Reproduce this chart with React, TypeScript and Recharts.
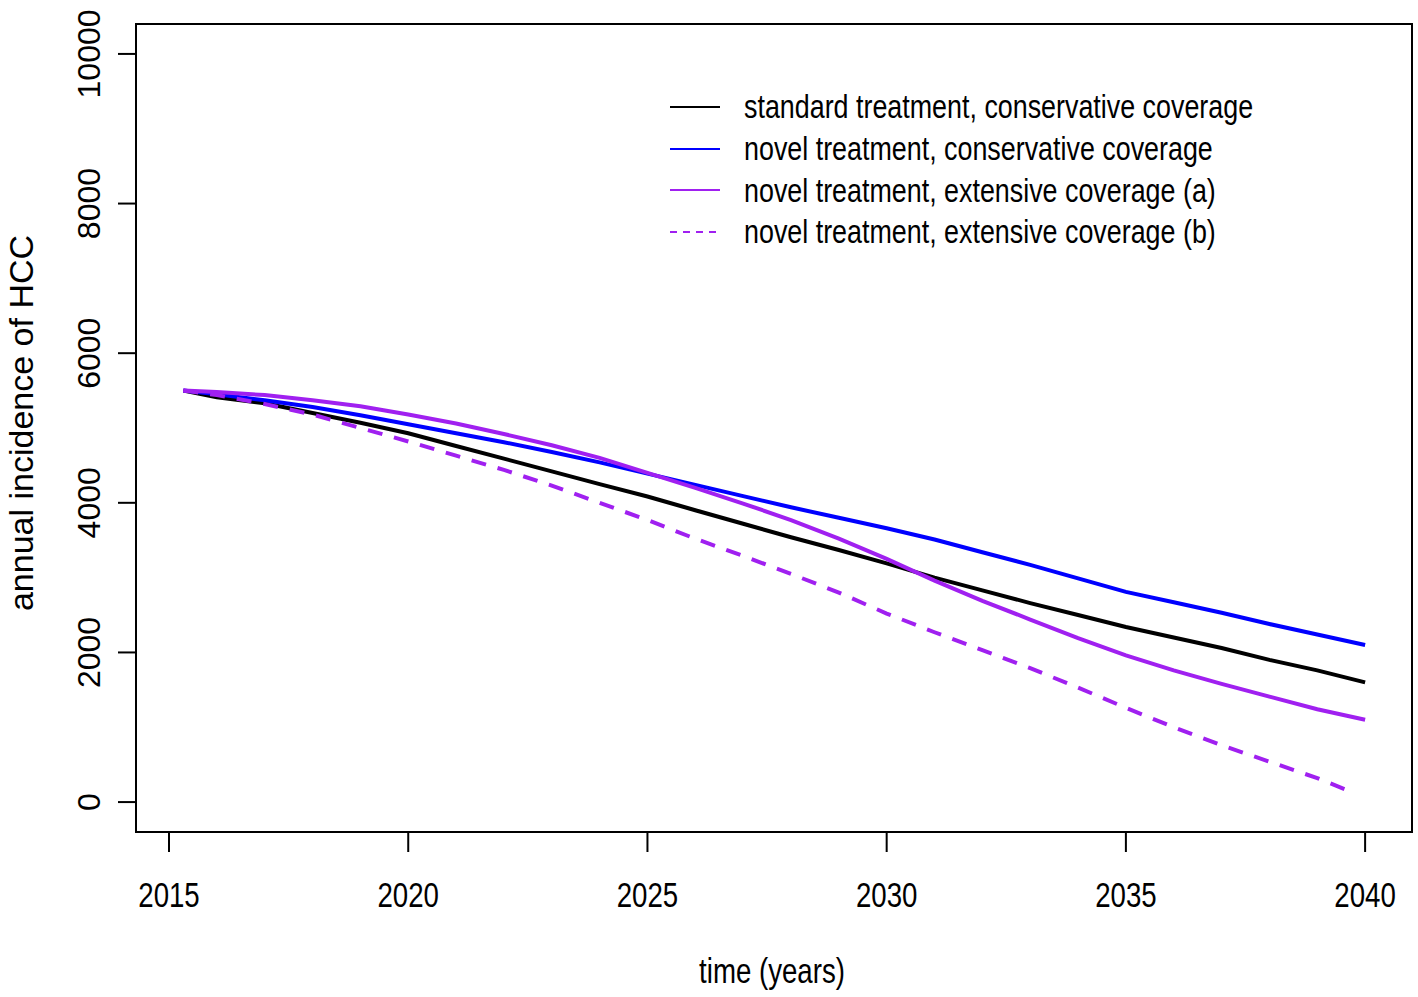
import { LineChart, Line, XAxis, YAxis, ReferenceArea, Legend, Label } from 'recharts'

// time points (years); the dashed scenario stops a little before 2040
const years = [
  2015.3, 2016, 2017, 2018, 2019, 2020, 2021, 2022, 2023, 2024, 2025, 2026, 2027,
  2028, 2029, 2030, 2031, 2032, 2033, 2034, 2035, 2036, 2037, 2038, 2039, 2040,
]
const yearsB = [
  2015.3, 2016, 2017, 2018, 2019, 2020, 2021, 2022, 2023, 2024, 2025, 2026, 2027,
  2028, 2029, 2030, 2031, 2032, 2033, 2034, 2035, 2036, 2037, 2038, 2039, 2039.7,
]

const standardConservative = [
  5500, 5410, 5330, 5200, 5070, 4930, 4760, 4590, 4420, 4250, 4085, 3900, 3720,
  3540, 3370, 3190, 3000, 2830, 2660, 2500, 2340, 2200, 2060, 1900, 1760, 1600,
]
const novelConservative = [
  5500, 5450, 5370, 5280, 5170, 5050, 4930, 4810, 4680, 4540, 4390, 4240, 4090,
  3940, 3800, 3660, 3510, 3340, 3170, 2990, 2810, 2670, 2530, 2380, 2240, 2100,
]
const novelExtensiveA = [
  5500, 5480, 5440, 5370, 5290, 5180, 5060, 4920, 4770, 4600, 4400, 4200, 3990,
  3770, 3520, 3250, 2960, 2690, 2440, 2190, 1960, 1760, 1580, 1410, 1240, 1100,
]
const novelExtensiveB = [
  5500, 5440, 5320, 5180, 5000, 4820, 4630, 4440, 4230, 4000, 3770, 3520, 3290,
  3050, 2800, 2520, 2270, 2030, 1790, 1530, 1260, 1000, 760, 540, 320, 140,
]

const xTicks = [2015, 2020, 2025, 2030, 2035, 2040]
const yTicks = [0, 2000, 4000, 6000, 8000, 10000]
const xDomain = [2014.31, 2040.98]
const yDomain = [-400, 10400]

// no narrow font installed, so horizontal text is squeezed with scaleX
const font = "'Liberation Sans', Arial, sans-serif"
const squeeze = 0.79

const series = [
  { name: 'standard treatment, conservative coverage', x: years, y: standardConservative, color: '#000000', dash: undefined },
  { name: 'novel treatment, conservative coverage', x: years, y: novelConservative, color: '#0000FF', dash: undefined },
  { name: 'novel treatment, extensive coverage (a)', x: years, y: novelExtensiveA, color: '#A020F0', dash: undefined },
  { name: 'novel treatment, extensive coverage (b)', x: yearsB, y: novelExtensiveB, color: '#A020F0', dash: '15 12' },
]

function XTick({ x, y, payload }: any) {
  return (
    <g transform={`translate(${x},${y}) scale(${squeeze},1)`}>
      <text x={0} y={0} dy={26} textAnchor="middle" fontFamily={font} fontSize={35} fill="#000">
        {payload.value}
      </text>
    </g>
  )
}

function YTick({ x, y, payload }: any) {
  return (
    <text x={x} y={y} transform={`rotate(-90 ${x} ${y})`} textAnchor="middle" fontFamily={font} fontSize={32} fill="#000">
      {payload.value}
    </text>
  )
}

function LegendBox() {
  return (
    <div style={{ fontFamily: font, fontSize: 34, color: '#000' }}>
      {series.map(s => (
        <div key={s.name} style={{ display: 'flex', alignItems: 'center', height: 41.7, whiteSpace: 'nowrap' }}>
          <svg width={50} height={6} style={{ marginRight: 24 }}>
            <line x1={0} y1={3} x2={50} y2={3} stroke={s.color} strokeWidth={2} strokeDasharray={s.dash ? '7 6' : undefined} />
          </svg>
          <span style={{ display: 'inline-block', transform: `scaleX(${squeeze})`, transformOrigin: 'left center' }}>{s.name}</span>
        </div>
      ))}
    </div>
  )
}

export default function App() {
  return (
    <div style={{ position: 'absolute', left: 0, top: 0, background: '#fff' }}>
      <LineChart width={1418} height={997} margin={{ top: 24, right: 6, bottom: 0, left: 0 }}>
        <XAxis
          type="number"
          dataKey="x"
          domain={xDomain}
          ticks={xTicks}
          allowDataOverflow
          axisLine={false}
          tickLine={{ stroke: '#000', strokeWidth: 2 }}
          tickSize={20}
          tickMargin={29}
          height={165}
          tick={<XTick />}
        >
          <Label
            content={({ viewBox }: any) => (
              <g transform={`translate(${viewBox.x + viewBox.width / 2 - 2},${viewBox.y + 151}) scale(${squeeze},1)`}>
                <text x={0} y={0} textAnchor="middle" fontFamily={font} fontSize={35} fill="#000">
                  time (years)
                </text>
              </g>
            )}
          />
        </XAxis>
        <YAxis
          type="number"
          domain={yDomain}
          ticks={yTicks}
          allowDataOverflow
          axisLine={false}
          tickLine={{ stroke: '#000', strokeWidth: 2 }}
          tickSize={18}
          tickMargin={18}
          width={136}
          tick={<YTick />}
        >
          <Label
            content={({ viewBox }: any) => {
              const cx = viewBox.x + 33
              const cy = viewBox.y + viewBox.height / 2 - 5
              return (
                <text x={cx} y={cy} transform={`rotate(-90 ${cx} ${cy})`} textAnchor="middle" fontFamily={font} fontSize={34} fill="#000">
                  annual incidence of HCC
                </text>
              )
            }}
          />
        </YAxis>
        <ReferenceArea x1={xDomain[0]} x2={xDomain[1]} y1={yDomain[0]} y2={yDomain[1]} fill="none" stroke="#000" strokeWidth={2} strokeOpacity={1} fillOpacity={0} />
        {series.map(s => (
          <Line
            key={s.name}
            data={s.x.map((x, i) => ({ x, y: s.y[i] }))}
            dataKey="y"
            name={s.name}
            type="linear"
            stroke={s.color}
            strokeWidth={4}
            strokeDasharray={s.dash}
            dot={false}
            activeDot={false}
            isAnimationActive={false}
          />
        ))}
        <Legend
          layout="horizontal"
          verticalAlign="middle"
          align="center"
          content={<LegendBox />}
          wrapperStyle={{ position: 'absolute', left: 670, top: 86, width: 'auto' }}
        />
      </LineChart>
    </div>
  )
}
